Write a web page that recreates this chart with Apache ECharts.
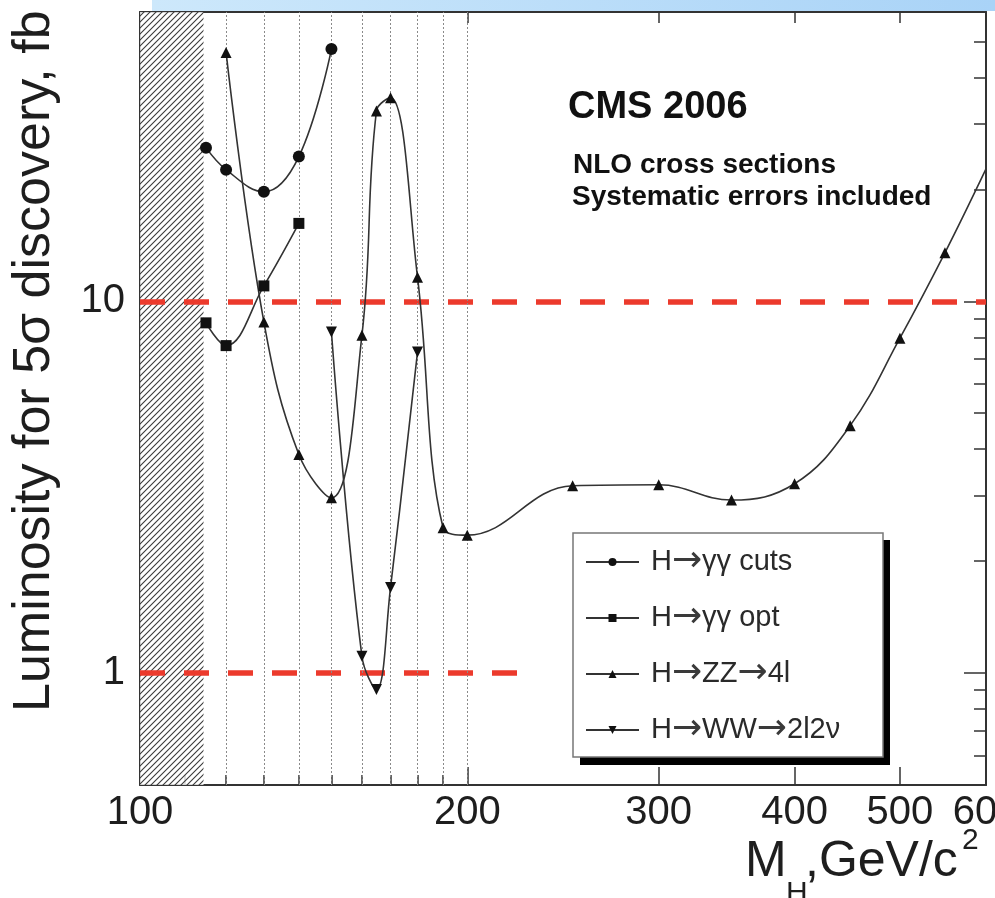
<!DOCTYPE html>
<html>
<head>
<meta charset="utf-8">
<script src="https://cdn.jsdelivr.net/npm/echarts@6/dist/echarts.min.js"></script>
<style>
html,body{margin:0;padding:0;background:#fff;}
#c{width:995px;height:898px;}
</style>
</head>
<body>
<div id="c"></div>
<script>
const FONT = '"Liberation Sans", Arial, Helvetica, sans-serif';

// ---- data ----
const seriesNames = ['H→γγ cuts', 'H→γγ opt', 'H→ZZ→4l', 'H→WW→2l2ν'];
const massCuts = [115, 120, 130, 140, 150];
const lumiCuts = [25.9, 22.6, 19.7, 24.5, 47.7];
const massOpt = [115, 120, 130, 140];
const lumiOpt = [8.75, 7.6, 11.0, 16.2];
const massZZ = [120, 130, 140, 150, 160, 165, 170, 180, 190, 200, 250, 300, 350, 400, 450, 500, 550, 600];
const lumiZZ = [46.7, 8.8, 3.87, 2.96, 8.1, 32.5, 35.3, 11.6, 2.46, 2.35, 3.19, 3.21, 2.92, 3.23, 4.63, 7.96, 13.5, 22.7];
const massWW = [150, 160, 165, 170, 180];
const lumiWW = [8.27, 1.11, 0.904, 1.70, 7.31];

// axis ticks / labels
const xRange = [100, 600];
const yRange = [0.5, 60];
const xLabelValues = [100, 200, 300, 400, 500, 600];
const xMajorTicks = [200, 300, 400, 500];
const xMinorTicks = [110, 120, 130, 140, 150, 160, 170, 180, 190];
const xGridLines = [120, 130, 140, 150, 160, 170, 180, 190, 200];
const yLabelValues = [1, 10];
const yMinorTicks = [0.6, 0.7, 0.8, 0.9, 2, 3, 4, 5, 6, 7, 8, 9, 20, 30, 40, 50];
const lepLimit = 114.4;
const level10 = { y: 10, from: 100, to: 600 };
const level1 = { y: 1, from: 100, to: 227 };

const zip = (xs, ys) => xs.map((x, i) => [x, ys[i]]);

function hatchPattern() {
  const s = 6;
  const c = document.createElement('canvas');
  c.width = s; c.height = s;
  const g = c.getContext('2d');
  g.fillStyle = 'rgba(255,255,255,0.8)';
  g.fillRect(0, 0, s, s);
  g.strokeStyle = '#3a3a3a';
  g.lineWidth = 1.1;
  g.beginPath();
  g.moveTo(-1, s + 1); g.lineTo(s + 1, -1);
  g.moveTo(-1, 1); g.lineTo(1, -1);
  g.moveTo(s - 1, s + 1); g.lineTo(s + 1, s - 1);
  g.stroke();
  return c;
}

// legend label: draw the arrows in a wider glyph, text unchanged
function legendRich(name) {
  return name.split('→').map(p => '{t|' + p + '}').join('{arr|→}');
}

const axisLineStyle = { color: '#333', width: 2 };
const tickStyle = { color: '#333', width: 1.5 };

const logX = (extra) => Object.assign({
  type: 'log', logBase: 10, min: xRange[0], max: xRange[1],
  splitLine: { show: false }, minorTick: { show: false }, minorSplitLine: { show: false }
}, extra);
const logY = (extra) => Object.assign({
  type: 'log', logBase: 10, min: yRange[0], max: yRange[1],
  splitLine: { show: false }, minorTick: { show: false }, minorSplitLine: { show: false }
}, extra);

const lineCommon = {
  type: 'line', smooth: 0.4, z: 5,
  lineStyle: { color: '#333', width: 1.6 },
  itemStyle: { color: '#111' },
  emphasis: { disabled: true }
};

const chart = echarts.init(document.getElementById('c'));
chart.setOption({
  animation: false,
  backgroundColor: '#fff',
  grid: { left: 140, right: 9, top: 12, bottom: 113, containLabel: false, outerBoundsMode: 'none' },
  xAxis: [
    logX({
      position: 'bottom',
      axisLine: { show: true, lineStyle: axisLineStyle },
      axisTick: { show: true, inside: true, length: 18, customValues: xMajorTicks, lineStyle: tickStyle },
      axisLabel: { show: true, customValues: xLabelValues, fontSize: 40, fontFamily: FONT, color: '#1e1e1e', margin: 8, hideOverlap: false }
    }),
    logX({
      position: 'bottom',
      axisLine: { show: false },
      axisTick: { show: true, inside: true, length: 10, customValues: xMinorTicks, lineStyle: tickStyle },
      axisLabel: { show: false }
    }),
    logX({
      position: 'top',
      axisLine: { show: true, lineStyle: axisLineStyle },
      axisTick: { show: true, inside: true, length: 11, customValues: xMajorTicks, lineStyle: tickStyle },
      axisLabel: { show: false }
    })
  ],
  yAxis: [
    logY({
      position: 'left',
      axisLine: { show: true, lineStyle: axisLineStyle },
      axisTick: { show: false },
      axisLabel: { show: true, customValues: yLabelValues, fontSize: 40, fontFamily: FONT, color: '#1e1e1e', margin: 15 }
    }),
    logY({
      position: 'right',
      axisLine: { show: true, lineStyle: axisLineStyle },
      axisTick: { show: true, inside: true, length: 22, customValues: yLabelValues, lineStyle: tickStyle },
      axisLabel: { show: false }
    }),
    logY({
      position: 'right',
      axisLine: { show: false },
      axisTick: { show: true, inside: true, length: 12, customValues: yMinorTicks, lineStyle: tickStyle },
      axisLabel: { show: false }
    })
  ],
  legend: {
    orient: 'vertical',
    left: 585, top: 544,
    itemWidth: 53, itemHeight: 10, itemGap: 20,
    padding: 0,
    z: 20,
    selectedMode: false,
    data: seriesNames,
    formatter: legendRich,
    textStyle: {
      fontSize: 29, lineHeight: 30, fontFamily: FONT, color: '#2a2a2a', padding: [0, 0, 0, 7],
      rich: {
        t: { fontSize: 29, lineHeight: 30, fontFamily: FONT, color: '#2a2a2a' },
        arr: { fontSize: 36, lineHeight: 30, fontFamily: '"DejaVu Sans", sans-serif', color: '#3a3a3a' }
      }
    }
  },
  graphic: [
    {
      type: 'rect', z: 30,
      shape: { x: 152, y: 0, width: 843, height: 11 },
      style: { fill: new echarts.graphic.LinearGradient(0, 0, 1, 0, [
        { offset: 0, color: '#cde8fb' }, { offset: 1, color: '#a9d3f7' }]) }
    },
    { type: 'rect', z: 8, shape: { x: 580, y: 540, width: 310, height: 225 }, style: { fill: '#000' } },
    { type: 'rect', z: 9, shape: { x: 573, y: 533, width: 310, height: 224 }, style: { fill: '#fff', stroke: '#777', lineWidth: 1.5 } },
    { type: 'text', z: 10, x: 568, y: 108, style: { text: 'CMS 2006', font: 'bold 38px ' + FONT, fill: '#111', textAlign: 'left', textVerticalAlign: 'middle' } },
    { type: 'text', z: 10, x: 573, y: 165, style: { text: 'NLO cross sections', font: 'bold 28px ' + FONT, fill: '#111', textAlign: 'left', textVerticalAlign: 'middle' } },
    { type: 'text', z: 10, x: 572, y: 197, style: { text: 'Systematic errors included', font: 'bold 28px ' + FONT, fill: '#111', textAlign: 'left', textVerticalAlign: 'middle' } },
    { type: 'text', z: 10, x: 35, y: 712, rotation: Math.PI / 2, style: { text: 'Luminosity for 5σ discovery, fb', font: '52px ' + FONT, fill: '#1e1e1e', textAlign: 'left', textVerticalAlign: 'middle' } },
    { type: 'text', z: 10, x: 745, y: 862, style: { text: 'M', font: '50px ' + FONT, fill: '#1e1e1e', textAlign: 'left', textVerticalAlign: 'middle' } },
    { type: 'text', z: 10, x: 786, y: 894, style: { text: 'H', font: '30px ' + FONT, fill: '#1e1e1e', textAlign: 'left', textVerticalAlign: 'middle' } },
    { type: 'text', z: 10, x: 805, y: 862, style: { text: ',GeV/c', font: '50px ' + FONT, fill: '#1e1e1e', textAlign: 'left', textVerticalAlign: 'middle' } },
    { type: 'text', z: 10, x: 962, y: 841, style: { text: '2', font: '30px ' + FONT, fill: '#1e1e1e', textAlign: 'left', textVerticalAlign: 'middle' } }
  ],
  series: [
    {
      type: 'line', data: [], z: 1, silent: true,
      markLine: {
        silent: true, symbol: 'none', label: { show: false }, animation: false,
        lineStyle: { color: '#ec3a2c', width: 5.5, type: [25, 19], opacity: 1 },
        data: [
          [{ coord: [level10.from, level10.y] }, { coord: [level10.to, level10.y] }],
          [{ coord: [level1.from, level1.y] }, { coord: [level1.to, level1.y] }]
        ]
      }
    },
    {
      type: 'line', data: [], z: 1, silent: true,
      markLine: {
        silent: true, symbol: 'none', label: { show: false }, animation: false,
        lineStyle: { color: '#8a8a8a', width: 1, type: [2, 2], opacity: 1 },
        data: xGridLines.map(v => ({ xAxis: v }))
      }
    },
    {
      type: 'line', data: [], z: 3, silent: true,
      markArea: {
        silent: true, animation: false,
        itemStyle: { color: { image: hatchPattern(), repeat: 'repeat' }, opacity: 1 },
        data: [[{ xAxis: xRange[0] }, { xAxis: lepLimit }]]
      }
    },
    Object.assign({}, lineCommon, { name: seriesNames[0], data: zip(massCuts, lumiCuts), symbol: 'circle', symbolSize: 12 }),
    Object.assign({}, lineCommon, { name: seriesNames[1], data: zip(massOpt, lumiOpt), symbol: 'rect', symbolSize: 11 }),
    Object.assign({}, lineCommon, { name: seriesNames[2], data: zip(massZZ, lumiZZ), symbol: 'triangle',
      symbolSize: (v) => (v[0] >= xRange[1] ? 0 : 11) }),
    Object.assign({}, lineCommon, { name: seriesNames[3], data: zip(massWW, lumiWW), symbol: 'triangle', symbolRotate: 180, symbolSize: 11 })
  ]
});
</script>
</body>
</html>
